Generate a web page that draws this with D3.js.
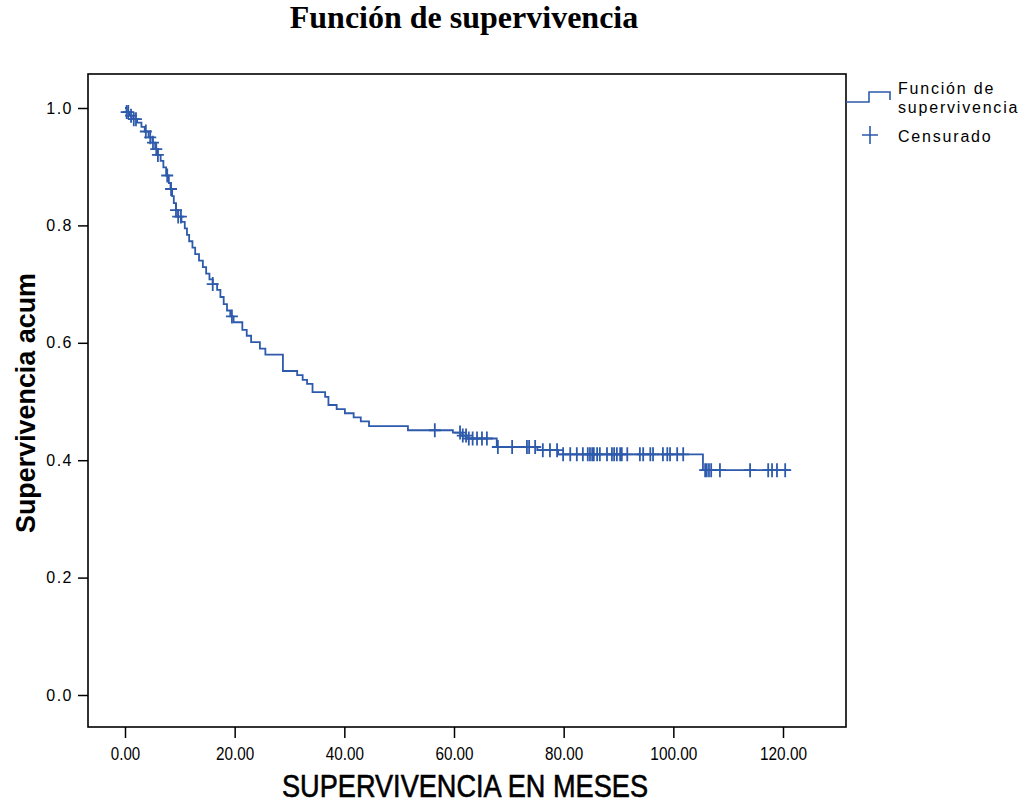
<!DOCTYPE html>
<html>
<head>
<meta charset="utf-8">
<script src="https://cdn.jsdelivr.net/npm/d3@7/dist/d3.min.js"></script>
<style>
  body { margin: 0; background: #fff; }
  svg { display: block; }
</style>
</head>
<body>
<div id="canvas"></div>
<script>
// Kaplan-Meier steps
const stepTimes = [0, 0.3, 0.8, 1.5, 2.2, 3.0, 3.6, 4.3, 5.0, 5.5, 6.0, 6.5, 7.0, 7.5, 8.0, 8.3, 8.6, 8.9, 9.3, 9.7,
  10.3, 10.9, 11.3, 11.7, 12.3, 12.8, 13.5, 14.2, 14.8, 15.4, 16.0, 16.8, 17.4, 18.0, 18.6, 19.2, 19.8,
  21.4, 22.2, 23.0, 24.6, 25.6, 28.8, 31.4, 32.4, 33.2, 34.2, 36.5, 37.1, 38.6, 40.1, 41.7, 43.0, 44.5,
  51.6, 59.8, 61.5, 62.3, 67.8, 75.2, 79.0, 105.4];
const stepSurv = [1.0, 0.993, 0.987, 0.981, 0.975, 0.968, 0.960, 0.950, 0.941, 0.930, 0.920, 0.910, 0.899, 0.885, 0.872, 0.862, 0.850, 0.838, 0.826, 0.815,
  0.806, 0.795, 0.784, 0.773, 0.762, 0.751, 0.740, 0.729, 0.718, 0.708, 0.700, 0.690, 0.678, 0.666, 0.655, 0.645, 0.635,
  0.622, 0.612, 0.601, 0.590, 0.580, 0.552, 0.545, 0.537, 0.530, 0.516, 0.508, 0.494, 0.487, 0.480, 0.473, 0.466, 0.458,
  0.451, 0.447, 0.442, 0.437, 0.4225, 0.417, 0.410, 0.383];
const endTime = 121.3;

const censorTimes = [0.3, 0.6, 1.1, 1.6, 2.0, 3.8, 4.6, 5.1, 5.7, 6.0, 7.7, 8.4, 9.3, 9.7, 10.2, 16.0, 19.5,
  56.5, 61.1, 61.6, 62.2, 62.7, 63.4, 64.2, 65.1, 66.0, 68.0, 70.6, 73.3, 73.7, 74.8, 76.2, 77.5, 78.8,
  79.9, 81.2, 82.4, 83.5, 84.4, 84.8, 85.2, 85.5, 86.1, 86.6, 87.9, 88.8, 89.2, 89.7, 90.3, 90.6, 91.6,
  93.9, 94.5, 95.8, 96.3, 98.1, 98.9, 99.4, 100.7, 101.8, 105.8, 106.1, 106.5, 106.9, 108.5, 114.0,
  117.3, 118.0, 118.9, 120.4];

const xTicks = [0, 20, 40, 60, 80, 100, 120];
const yTicks = [0, 0.2, 0.4, 0.6, 0.8, 1.0];

const width = 1024, height = 803;
const frame = { left: 88, top: 74, right: 846, bottom: 727 };
const lineColor = "#2e5aac";

const svg = d3.select("#canvas").append("svg")
  .attr("width", width)
  .attr("height", height);

const x = d3.scaleLinear().domain([0, 120]).range([125, 783]);
const y = d3.scaleLinear().domain([0, 1]).range([695, 108]);

// title
svg.append("text")
  .attr("x", 464).attr("y", 28)
  .attr("text-anchor", "middle")
  .style("font-family", "'Liberation Serif', serif")
  .style("font-weight", "bold")
  .style("font-size", "32px")
  .text("Función de supervivencia");

// frame
svg.append("rect")
  .attr("x", frame.left).attr("y", frame.top)
  .attr("width", frame.right - frame.left)
  .attr("height", frame.bottom - frame.top)
  .attr("fill", "none")
  .attr("stroke", "#000")
  .attr("stroke-width", 1.6);

// axes
const yAxis = svg.append("g")
  .attr("transform", `translate(${frame.left},0)`)
  .call(d3.axisLeft(y).tickValues(yTicks).tickFormat(d3.format(".1f")).tickSize(10).tickPadding(5));
yAxis.select(".domain").remove();
yAxis.selectAll("line").attr("stroke-width", 1.5);
yAxis.selectAll("text")
  .style("font-family", "'Liberation Sans', Arial, sans-serif")
  .style("font-size", "16px")
  .style("letter-spacing", "1.5px")
  .attr("fill", "#000");

const xAxis = svg.append("g")
  .attr("transform", `translate(0,${frame.bottom})`)
  .call(d3.axisBottom(x).tickValues(xTicks).tickFormat(d3.format(".2f")).tickSize(11).tickPadding(9));
xAxis.select(".domain").remove();
xAxis.selectAll("line").attr("stroke-width", 1.5);
xAxis.selectAll("text")
  .style("font-family", "'Liberation Sans', sans-serif")
  .style("font-size", "18px")
  .attr("textLength", d => (d3.format(".2f")(d).length - 1) * 8.8 + 3)
  .attr("lengthAdjust", "spacingAndGlyphs")
  .attr("fill", "#000");

// axis titles
svg.append("text")
  .attr("transform", "translate(35,403) rotate(-90)")
  .attr("text-anchor", "middle")
  .attr("textLength", 260)
  .attr("lengthAdjust", "spacingAndGlyphs")
  .style("font-family", "'Liberation Sans', sans-serif")
  .style("font-weight", "bold")
  .style("font-size", "28px")
  .text("Supervivencia acum");

svg.append("text")
  .attr("x", 465).attr("y", 797)
  .attr("text-anchor", "middle")
  .attr("textLength", 366)
  .attr("lengthAdjust", "spacingAndGlyphs")
  .attr("stroke", "#000")
  .attr("stroke-width", 0.6)
  .style("font-family", "'Liberation Sans', sans-serif")
  .style("font-size", "31px")
  .text("SUPERVIVENCIA EN MESES");

// survival curve
const pts = stepTimes.map((t, i) => [t, stepSurv[i]]);
pts.push([endTime, stepSurv[stepSurv.length - 1]]);

const line = d3.line()
  .x(d => x(d[0]))
  .y(d => y(d[1]))
  .curve(d3.curveStepAfter);

svg.append("path")
  .datum(pts)
  .attr("d", line)
  .attr("fill", "none")
  .attr("stroke", lineColor)
  .attr("stroke-width", 1.8);

// censored marks
function survAt(t) {
  const i = d3.bisectRight(stepTimes, t) - 1;
  return stepSurv[Math.max(0, i)];
}

const cross = "M-6,0H6M0,-7V7";
svg.append("g").selectAll("path")
  .data(censorTimes)
  .enter().append("path")
  .attr("transform", d => `translate(${x(d)},${y(survAt(d))})`)
  .attr("d", cross)
  .attr("stroke", lineColor)
  .attr("stroke-width", 1.8)
  .attr("fill", "none");

// legend
const leg = svg.append("g");
leg.append("path")
  .attr("d", "M846,102H869V92H890V100")
  .attr("fill", "none")
  .attr("stroke", lineColor)
  .attr("stroke-width", 1.6);
leg.append("path")
  .attr("transform", "translate(870,135)")
  .attr("d", "M-8,0H8M0,-9V9")
  .attr("stroke", lineColor)
  .attr("stroke-width", 1.6);

const legText = [["Función de", 94], ["supervivencia", 113], ["Censurado", 142]];
leg.selectAll("text")
  .data(legText)
  .enter().append("text")
  .attr("x", 898)
  .attr("y", d => d[1])
  .style("font-family", "'Liberation Sans', Arial, sans-serif")
  .style("font-size", "16px")
  .style("letter-spacing", "1.8px")
  .text(d => d[0]);
</script>
</body>
</html>
